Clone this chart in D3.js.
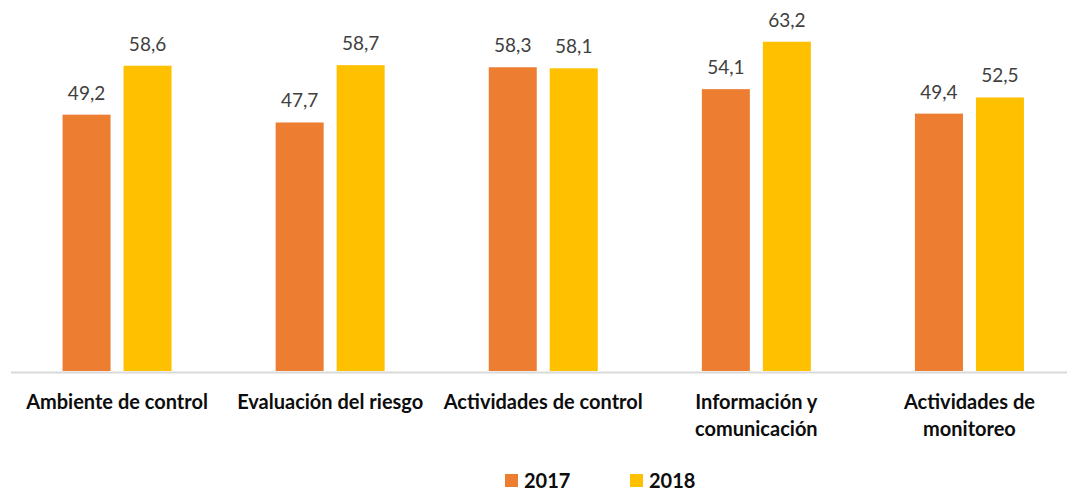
<!DOCTYPE html>
<html><head><meta charset="utf-8">
<script src="https://cdn.jsdelivr.net/npm/d3@7"></script>
<style>body{margin:0;background:#fff}svg{display:block}</style>
</head><body>
<svg id="chart" width="1067" height="492"></svg>
<script>
const categories = [["Ambiente de control"],["Evaluación del riesgo"],["Actividades de control"],["Información y","comunicación"],["Actividades de","monitoreo"]];
const series = ["2017","2018"];
const values2017 = [49.2, 47.7, 58.3, 54.1, 49.4];
const values2018 = [58.6, 58.7, 58.1, 63.2, 52.5];
const colors = ["#ED7D31","#FFC000"];
const fmt = v => v.toFixed(1).replace(".", ",");

const svg = d3.select("#chart");
const x = d3.scaleBand().domain(d3.range(categories.length)).range([10.5, 1076]).paddingInner(0).paddingOuter(0);
const y = d3.scaleLinear().domain([0, 70]).range([371, 371 - 70*5.21]);
const barW = 48, gap = 13;
const data = [values2017, values2018];

// bars
series.forEach((s, si) => {
  svg.append("g").selectAll("rect").data(data[si]).join("rect")
    .attr("x", (d, i) => x(i) + x.bandwidth()/2 + (si === 0 ? -(gap/2 + barW) : gap/2))
    .attr("y", d => y(d))
    .attr("width", barW)
    .attr("height", d => y(0) - y(d))
    .attr("fill", colors[si]);
  svg.append("g").selectAll("text").data(data[si]).join("text")
    .attr("x", (d, i) => x(i) + x.bandwidth()/2 + (si === 0 ? -(gap/2 + barW/2) : gap/2 + barW/2))
    .attr("y", d => y(d) - 15)
    .attr("text-anchor", "middle")
    .attr("font-family", "Lato, sans-serif")
    .attr("font-size", 19)
    .attr("fill", "#404040")
    .text(d => fmt(d));
});

// axis baseline
const axis = d3.axisBottom(x).tickSize(0).tickFormat("");
const ag = svg.append("g").attr("transform", `translate(0,${y(0)+1})`).call(axis);
ag.select(".domain").attr("stroke", "#D9D9D9").attr("stroke-width", 2);

// category labels
const lg = svg.append("g");
categories.forEach((lines, i) => {
  const t = lg.append("text")
    .attr("text-anchor", "middle")
    .attr("font-family", "Lato, sans-serif")
    .attr("font-weight", "bold")
    .attr("font-size", 20)
    .attr("fill", "#0D0D0D");
  lines.forEach((ln, li) => {
    t.append("tspan").attr("x", x(i) + x.bandwidth()/2).attr("y", 409 + li*27).text(ln);
  });
});

// legend
const legendX = [505, 630];
series.forEach((s, si) => {
  svg.append("rect").attr("x", legendX[si]).attr("y", 474).attr("width", 13).attr("height", 13).attr("fill", colors[si]);
  svg.append("text").attr("x", legendX[si] + 19).attr("y", 488)
    .attr("font-family", "Lato, sans-serif").attr("font-weight", "bold").attr("font-size", 20)
    .attr("fill", "#0D0D0D").text(s);
});
</script>
</body></html>
